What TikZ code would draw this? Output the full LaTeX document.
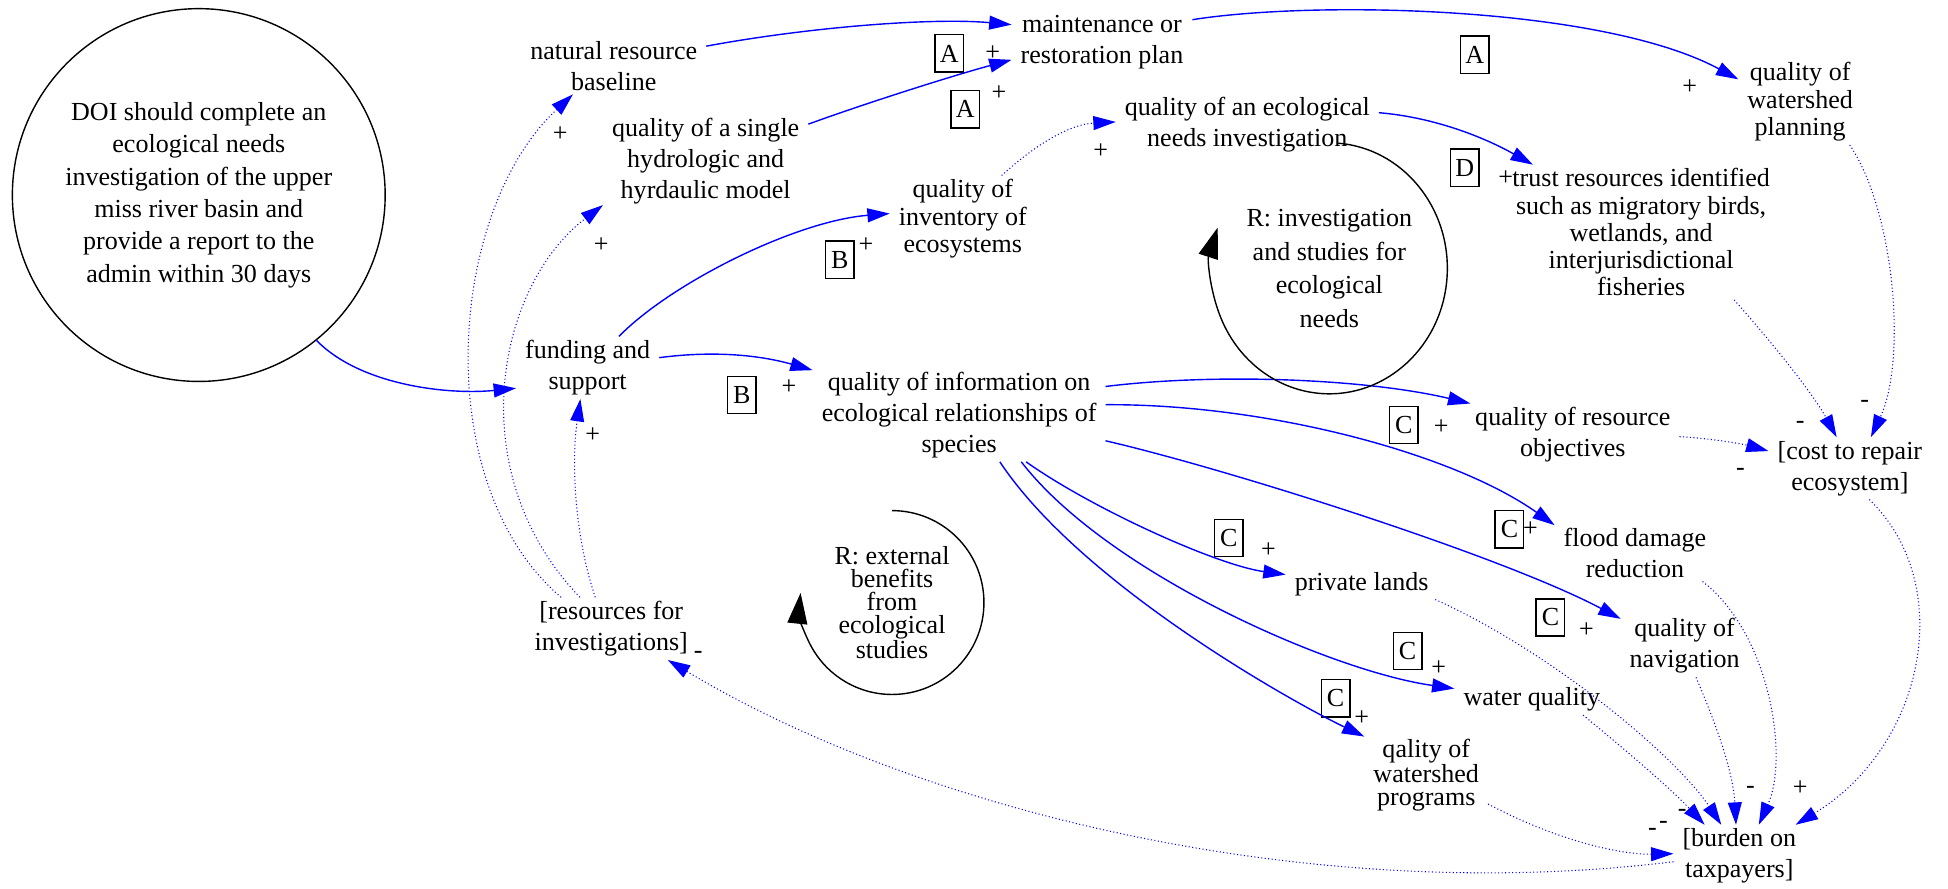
\documentclass[tikz,border=0pt]{standalone}
\usepackage{fontspec}
\setmainfont{Liberation Serif}
\usetikzlibrary{arrows.meta}

\begin{document}
\begin{tikzpicture}[
        x=0.025cm, y=-0.025cm,
        var/.style={
            align=center,
            inner xsep=5pt,
            inner ysep=2pt,
            font=\fontsize{14.9}{17.8}\selectfont
        },
        tight/.style={font=\fontsize{14.9}{15.6}\selectfont},
        tighter/.style={font=\fontsize{14.9}{13.1}\selectfont},
        tag/.style={
            draw,
            line width=0.8pt,
            inner sep=1pt,
            minimum width=0.575cm,
            minimum height=0.75cm,
            font=\fontsize{14.9}{17.8}\selectfont
        },
        sign/.style={inner sep=0pt, font=\fontsize{14.9}{17.8}\selectfont},
        link/.style={blue, line width=0.8pt, -{Triangle[length=0.45cm, width=0.28cm]}},
        weak/.style={link, line width=0.6pt, dash pattern=on 0.6pt off 1.4pt},
        loopline/.style={black, line width=0.8pt, -{Triangle[length=0.62cm, width=0.4cm]}}
    ]
        \useasboundingbox (0,0) rectangle (1568,715);

        \node[var, draw, circle, line width=0.8pt, minimum size=7.5cm, inner sep=0pt,
            font=\fontsize{14.9}{18.5}\selectfont] (doi) at (160,157)
            {DOI should complete an\\ecological needs\\investigation of the upper\\miss river basin and\\provide a report to the\\admin within 30 days};

        \node[var] (baseline) at (494,53) {natural resource\\baseline};
        \node[var] (plan) at (887,34) {maintenance or\\restoration plan};
        \node[var] (model) at (568,130) {quality of a single\\hydrologic and\\hyrdaulic model};
        \node[var] (needsinv) at (1004,100) {quality of an ecological\\needs investigation};
        \node[var, tight] (inventory) at (775,176) {quality of\\inventory of\\ecosystems};
        \node[var, tight] (wsplan) at (1449,82) {quality of\\watershed\\planning};
        \node[var, tight] (trust) at (1321,187) {trust resources identified\\such as migratory birds,\\wetlands, and\\interjurisdictional\\fisheries};
        \node[var, font=\fontsize{14.9}{19.2}\selectfont] (loopinv) at (1070,216) {R: investigation\\and studies for\\ecological\\needs};
        \node[var] (funding) at (473,296) {funding and\\support};
        \node[var] (info) at (772,334) {quality of information on\\ecological relationships of\\species};
        \node[var] (resources) at (492,506) {[resources for\\investigations]};
        \node[var] (objectives) at (1266,350) {quality of resource\\objectives};
        \node[var] (cost) at (1489,377) {[cost to repair\\ecosystem]};
        \node[var] (flood) at (1316,445) {flood damage\\reduction};
        \node[var] (private) at (1096,470) {private lands};
        \node[var] (navigation) at (1356,520) {quality of\\navigation};
        \node[var] (water) at (1233,563) {water quality};
        \node[var, tighter] (programs) at (1148,624) {qality of\\watershed\\programs};
        \node[var] (burden) at (1400,689) {[burden on\\taxpayers]};
        \node[var, tighter] (loopext) at (718,485) {R: external\\benefits\\from\\ecological\\studies};

        \node[tag] (tagA1) at (764,43) {A};
        \node[tag] (tagA2) at (777,88) {A};
        \node[tag] (tagA3) at (1187,44) {A};
        \node[tag] (tagD) at (1179,135) {D};
        \node[tag] (tagB1) at (676,209) {B};
        \node[tag] (tagB2) at (597,318) {B};
        \node[tag] (tagC1) at (1130,342) {C};
        \node[tag] (tagC2) at (1215,426) {C};
        \node[tag] (tagC3) at (989,433) {C};
        \node[tag] (tagC4) at (1248,497) {C};
        \node[tag] (tagC5) at (1133,524) {C};
        \node[tag] (tagC6) at (1075,562) {C};

        \foreach \n/\x/\y in {1/799/43, 2/804/75, 3/451/108, 4/484/197, 5/697/197, 6/886/122,
                7/1360/70, 8/1212/143, 9/635/312, 10/477/350, 11/1160/344, 12/1232/426,
                13/1021/443, 14/1277/507, 15/1158/538, 16/1096/578, 17/1449/634}
            \node[sign] (plus\n) at (\x,\y) {+};
        \foreach \n/\x/\y in {1/1501/325, 2/1449/342, 3/1401/380, 4/1409/636, 5/1354/654,
                6/1339/664, 7/1330/670, 8/562/527}
            \node[sign] (minus\n) at (\x,\y) {-};

        \draw[link] (doi.-51) .. controls (290,310) and (360,318) .. (funding.196);
        \draw[link] (baseline.12) .. controls (650,22) and (750,14) .. (plan.169);
        \draw[link] (model.20) .. controls (700,82) and (770,60) .. (plan.191);
        \draw[link] (plan.14) .. controls (1060,0) and (1290,5) .. (wsplan.160);
        \draw[link] (needsinv.5) .. controls (1150,94) and (1190,108) .. (trust.148);
        \draw[link] (funding.45) .. controls (540,228) and (640,178) .. (inventory.176);
        \draw[link] (funding.8) .. controls (575,282) and (612,286) .. (info.163);
        \draw[link] (info.11) .. controls (980,300) and (1100,305) .. (objectives.163);
        \draw[link] (info.4) .. controls (1020,325) and (1170,365) .. (flood.161);
        \draw[link] (info.-10) .. controls (990,378) and (1210,448) .. (navigation.157);
        \draw[link] (info.-35) .. controls (880,410) and (980,455) .. (private.173);
        \draw[link] (info.-37) .. controls (890,460) and (1070,540) .. (water.172);
        \draw[link] (info.-49) .. controls (870,470) and (1040,565) .. (programs.148);

        \draw[weak] (inventory.48) .. controls (835,115) and (862,100) .. (needsinv.179);
        \draw[weak] (resources.148) .. controls (345,390) and (360,170) .. (baseline.215);
        \draw[weak] (resources.135) .. controls (370,380) and (400,230) .. (model.203);
        \draw[weak] (resources.117) .. controls (462,430) and (460,370) .. (funding.-103);
        \draw[weak] (wsplan.-41) .. controls (1525,170) and (1535,290) .. (cost.56);
        \draw[weak] (trust.-36) .. controls (1430,280) and (1460,318) .. (cost.113);
        \draw[weak] (objectives.-1) .. controls (1380,353) and (1405,358) .. (cost.168);
        \draw[weak] (cost.-58) .. controls (1575,470) and (1550,600) .. (burden.29);
        \draw[weak] (flood.-23) .. controls (1425,510) and (1440,610) .. (burden.58);
        \draw[weak] (navigation.-70) .. controls (1380,580) and (1395,620) .. (burden.96);
        \draw[weak] (private.-12) .. controls (1250,525) and (1350,610) .. (burden.120);
        \draw[weak] (water.-17) .. controls (1310,605) and (1345,635) .. (burden.138);
        \draw[weak] (programs.-25) .. controls (1260,680) and (1310,688) .. (burden.178);
        \draw[weak] (burden.185) .. controls (1050,730) and (737,651) .. (resources.-29);

        \draw[loopline] (loopinv.center) ++(-86:95 and 101)
            arc[start angle=-86, end angle=199, x radius=95, y radius=101];
        \draw[loopline] (loopext.center) ++(-90:74)
            arc[start angle=-90, end angle=186, radius=74];
\end{tikzpicture}
\end{document}
